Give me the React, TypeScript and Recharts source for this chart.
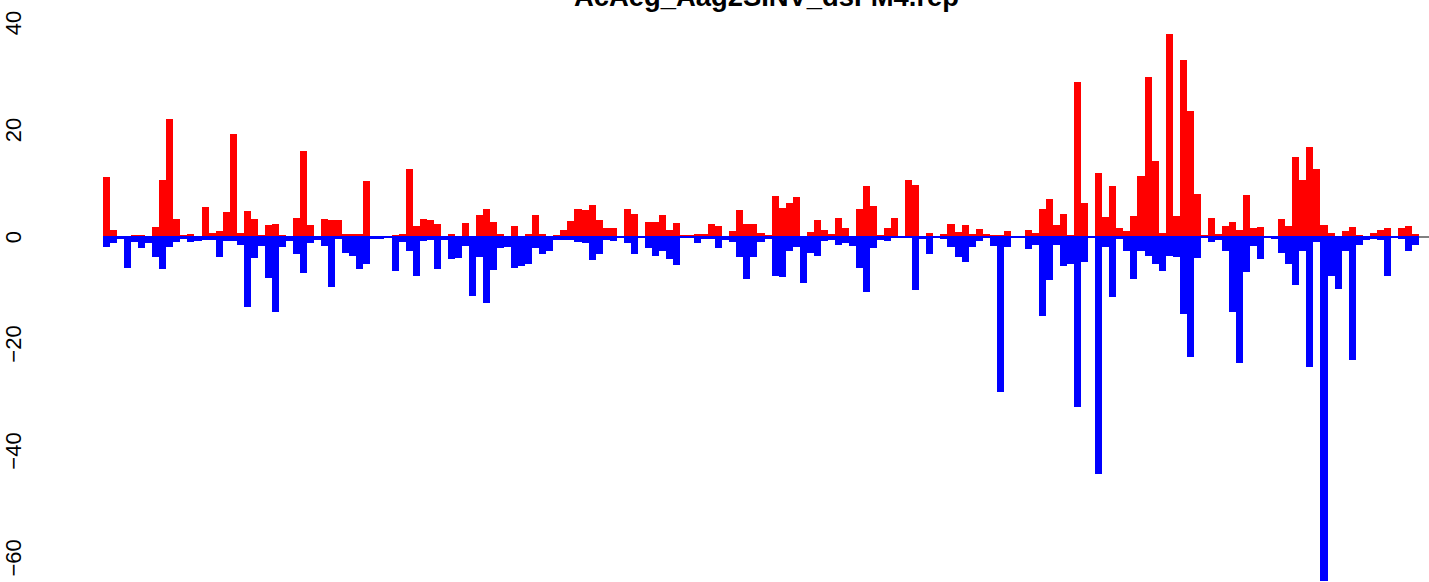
import React from 'react';
import { Bar, BarChart, ReferenceLine, XAxis, YAxis } from 'recharts';

// coverage per bin, plus strand (red) and minus strand (blue)
const plusStrand = [
  11.2, 1.3, 0, 0, 0.3, 0.4, 0.1, 1.9, 10.6, 22.1, 3.4, 0.4, 0.6, 0.1, 5.6, 0.8, 1.1, 4.7, 19.2, 0.8,
  4.8, 3.4, 0.4, 2.3, 2.4, 0.4, 0.2, 3.5, 16.0, 2.3, 0.2, 3.4, 3.2, 3.2, 0.6, 0.6, 0.6, 10.4, 0.2, 0.2,
  0, 0.4, 0.6, 12.8, 2.1, 3.4, 3.2, 2.4, 0.2, 0.6, 0.1, 2.6, 0.2, 4.1, 5.2, 2.8, 0.6, 0.2, 2.1, 0.2,
  0.6, 4.1, 0.6, 0.1, 0.4, 1.3, 3.0, 5.2, 5.0, 5.9, 3.2, 1.7, 1.7, 0, 5.2, 4.3, 0, 2.8, 2.8, 4.1,
  1.3, 2.6, 0.4, 0.4, 0.6, 0.6, 2.4, 2.1, 0.2, 1.1, 5.0, 2.4, 2.4, 0.8, 0.4, 7.7, 5.4, 6.3, 7.4, 0.2,
  1.0, 3.2, 1.3, 0.6, 3.5, 1.7, 0.1, 5.2, 9.5, 5.8, 0.4, 1.7, 3.5, 0, 10.6, 9.7, 0.2, 0.8, 0.2, 0.6,
  2.4, 1.0, 2.3, 0.6, 1.5, 0.6, 0.4, 0.4, 1.1, 0.1, 0.2, 1.3, 0.8, 5.2, 7.1, 2.3, 4.3, 0.4, 29.0, 6.3,
  0, 11.9, 3.7, 9.5, 1.7, 1.1, 3.9, 11.4, 29.9, 14.3, 0.8, 37.9, 3.9, 33.1, 23.6, 8.0, 0.4, 3.5, 0.6, 2.1,
  2.8, 1.3, 7.8, 1.7, 1.9, 0.2, 0.1, 3.4, 2.1, 15.0, 10.6, 16.8, 12.8, 2.3, 0.8, 0, 1.1, 1.9, 0.4, 0.1,
  0.8, 1.3, 1.7, 0.2, 1.7, 2.1, 0.6,
];

const minusStrand = [
  -1.8, -1.2, -0.3, -5.7, -1.0, -2.1, -1.2, -3.7, -5.9, -1.8, -1.0, -0.3, -1.0, -0.8, -0.5, -0.5, -3.7, -0.8, -0.8, -1.4,
  -13.1, -4.0, -1.7, -7.7, -14.1, -1.8, -0.8, -3.2, -6.8, -1.2, -0.5, -1.7, -9.4, -0.3, -2.9, -3.5, -5.9, -5.0, -0.3, -0.3,
  0, -6.4, -1.0, -2.6, -7.2, -0.8, -0.5, -5.9, -0.5, -4.2, -4.0, -1.7, -11.0, -3.8, -12.3, -6.1, -2.1, -1.8, -5.7, -5.5,
  -5.1, -2.1, -3.1, -2.7, -0.5, -0.5, -0.5, -1.0, -1.2, -4.3, -3.1, -0.5, -0.7, 0, -1.2, -3.2, 0, -2.1, -3.5, -2.7,
  -4.2, -5.3, 0, -0.1, -1.2, -0.3, -0.3, -2.1, -0.5, -1.0, -3.7, -7.9, -3.7, -1.0, -0.3, -7.2, -7.5, -2.6, -1.9, -8.6,
  -2.9, -3.5, -0.8, -0.5, -1.4, -1.2, -1.7, -5.7, -10.3, -2.1, -0.5, -0.7, -0.1, 0, 0, -9.9, -0.3, -3.2, -0.1, -0.3,
  -1.9, -3.8, -4.6, -1.8, -0.8, 0, -1.6, -28.9, -1.8, 0, 0, -2.3, -1.4, -14.8, -8.1, -1.4, -5.5, -5.0, -31.7, -4.6,
  0, -44.3, -1.9, -11.2, -0.3, -2.7, -7.9, -2.7, -3.5, -5.0, -6.4, -3.5, -3.7, -14.4, -22.4, -4.0, -0.1, -1.0, -0.5, -2.6,
  -14.1, -23.5, -6.6, -1.6, -4.2, -0.1, -0.3, -2.9, -5.0, -9.0, -2.6, -24.3, -1.0, -64.3, -7.2, -9.8, -2.7, -23.0, -1.4, -0.5,
  -0.3, -0.5, -7.2, -0.1, -0.3, -2.6, -1.4,
];

const yTicks = [-60, -40, -20, 0, 20, 40];

const TITLE = 'AcAeg_Aag2SINV_dsFM4.rep';
const FONT = '"Liberation Sans", Arial, Helvetica, sans-serif';

const W = 1429;
const H = 582;
const AXIS_W = 103;

const data = plusStrand.map((p, i) => ({ bin: i + 1, plus: p, minus: minusStrand[i] }));
const lastBin = plusStrand.length + 0.5;
const xMax = lastBin + 1.42;
// one bin in pixels; bars touch each other like R's type="h" with thick butt lines
const binPx = (W - AXIS_W) / (xMax - 0.5);

function TouchingBar(props: any) {
  const { x, y, width, height, fill } = props;
  if (!height) return null;
  const cx = x + width / 2;
  const left = Math.round(cx - binPx / 2);
  const right = Math.round(cx + binPx / 2);
  const top = Math.min(y, y + height);
  return <rect x={left} y={top} width={right - left} height={Math.abs(height)} fill={fill} shapeRendering="crispEdges" />;
}

function RotatedTick({ y, payload }: { y?: number; payload?: { value: number } }) {
  const v = payload?.value ?? 0;
  const label = v < 0 ? `\u2212${Math.abs(v)}` : String(v);
  return (
    <text
      x={21}
      y={y}
      transform={`rotate(-90, 21, ${y})`}
      textAnchor="middle"
      fontSize={22}
      fontFamily={FONT}
      fill="#000"
    >
      {label}
    </text>
  );
}

export default function App() {
  return (
    <div style={{ position: 'relative', width: W, height: H, background: '#fff' }}>
      <style>{`body{margin:0}`}</style>
      <BarChart
        width={W}
        height={H}
        data={data}
        stackOffset="sign"
        barCategoryGap={0}
        margin={{ top: 20.4, right: 0, bottom: 0, left: 0 }}
      >
        <XAxis dataKey="bin" type="number" domain={[0.5, xMax]} hide />
        <YAxis
          width={AXIS_W}
          domain={[-64.5, 40.5]}
          ticks={yTicks}
          allowDataOverflow
          axisLine={false}
          tickLine={false}
          tick={<RotatedTick />}
        />
        <ReferenceLine y={0} stroke="#0000ff" strokeWidth={2} />
        <ReferenceLine
          segment={[{ x: lastBin, y: 0 }, { x: xMax, y: 0 }]}
          stroke="#808080"
          strokeWidth={2}
        />
        <Bar dataKey="plus" stackId="s" fill="#ff0000" shape={TouchingBar} isAnimationActive={false} />
        <Bar dataKey="minus" stackId="s" fill="#0000ff" shape={TouchingBar} isAnimationActive={false} />
      </BarChart>
      <svg
        width={W}
        height={30}
        style={{ position: 'absolute', left: 0, top: 0, pointerEvents: 'none' }}
      >
        <text x={766.5} y={6} textAnchor="middle" fontSize={27.4} fontWeight="bold" fontFamily={FONT}>
          {TITLE}
        </text>
      </svg>
    </div>
  );
}
